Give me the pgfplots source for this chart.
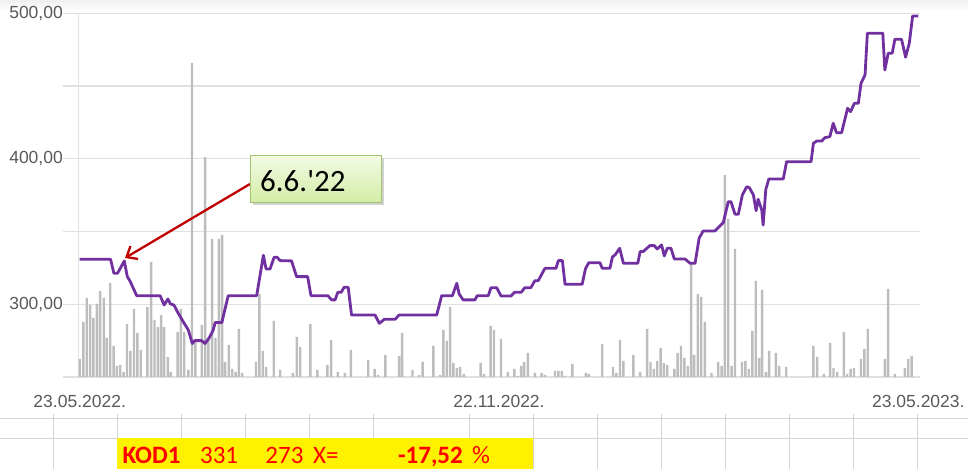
\documentclass[border=0pt]{standalone}
\usepackage{pgfplots}
\pgfplotsset{compat=1.18}
\usepackage{pgfplotstable}
\usepackage{fontspec}
\setmainfont{Liberation Sans}
\newfontfamily\calibri{Carlito}
\usetikzlibrary{arrows.meta}

\definecolor{gridgray}{HTML}{E0E0E0}
\definecolor{labelgray}{HTML}{595959}
\definecolor{bargray}{HTML}{BDBDBD}
\definecolor{pricepurple}{HTML}{7030A0}
\definecolor{arrowred}{HTML}{C00000}
\definecolor{boxborder}{HTML}{A3C46C}
\definecolor{boxtop}{HTML}{F3FBE3}
\definecolor{boxbottom}{HTML}{D2ECA6}
\definecolor{cellline}{HTML}{D4D4D4}

% price line: trading day, price
\pgfplotstableread{
t p
0 331
9.2 331
10.2 321.3
11.3 321.3
13.3 329.8
14.2 319
15.0 316
17.0 305.9
24.0 305.9
25.2 299.5
26.3 303.6
27.1 300.2
28.1 299.5
29.4 293.8
30.7 288.7
32.4 282.3
33.6 273
34.3 275
36.4 275
37.4 273
38.6 276.8
39.8 282
40.4 287.4
42.4 287.4
44.3 305.9
52.8 305.9
54.8 333.7
55.6 324.3
56.8 324.3
58.0 332.3
58.9 332.3
59.8 330
63.2 329.8
64.7 319
68.0 319
69.0 305.9
74.0 305.9
75.2 303
76.2 303
77.0 308.2
78.0 308.2
78.9 311.7
80.1 311.7
81.1 292.6
88.1 292.6
89.4 286.9
90.9 289.7
94.1 289.7
95.3 292.6
106.5 292.6
108.0 305.9
111.2 305.9
112.5 314.4
113.2 307.1
114.4 303
117.9 303
118.6 305.9
121.9 305.9
122.7 311.4
124.4 311.4
125.7 305.7
128.7 305.7
129.7 308.2
131.7 308.2
132.8 311.4
134.6 311.4
135.8 316.2
136.8 316.2
138.8 324.7
142.1 324.7
142.8 330
144.0 330
144.8 313.7
149.9 313.7
150.9 324.5
151.9 328.6
155.2 328.6
155.9 324.7
158.2 324.7
158.9 332.3
159.9 334.4
161.1 338.5
162.2 328.2
166.5 328.2
167.2 336.2
168.1 336.2
170.1 340.3
171.4 340.3
172.3 338
173.6 340.8
174.4 333.2
175.3 338.5
176.4 338.5
177.4 331.1
180.6 331.1
182.1 328.2
183.6 328.2
184.8 345.4
186.0 350.4
189.5 350.4
192.0 356.1
193.5 370.5
194.3 370.5
195.5 361.9
196.5 361.9
197.7 375.1
199.0 380.8
199.8 380.1
201.0 375.1
201.8 364.3
202.4 372.2
203.5 364.8
203.9 354.5
204.7 379
205.6 386.1
209.9 386.1
210.9 398
218.2 398
218.9 410.7
219.9 412.2
221.4 412.2
222.3 414.5
223.8 415.2
224.8 424.4
225.8 417.9
227.3 417.9
229.1 434.7
230.0 432.4
231.1 438.1
232.3 438.1
233.1 451.9
234.3 457.6
235.0 486.3
239.6 486.3
240.2 461
241.2 472.5
242.4 472.5
243.2 482.1
245.2 482.1
246.4 469.8
247.5 479.4
248.5 498.1
250.2 498.1
}\pricedata

% volume (relative bar heights)
\pgfplotstableread{
t v
0.0 18
1.1 55
2.1 79
3.1 72
4.1 59
5.1 73
6.1 86
7.2 79
8.1 39
9.1 94
10.1 31
11.1 11
12.1 12
13.1 5
14.1 53
15.1 26
16.2 68
17.2 44
18.2 27
20.2 70
21.3 115
22.3 57
23.3 50
24.3 62
25.2 50
26.3 20
27.2 5
29.2 45
30.2 68
31.2 45
32.4 7
33.5 314
34.5 35
36.4 52
37.4 220
38.4 39
39.5 138
40.5 39
41.5 138
42.5 142
43.4 15
44.5 32
45.5 8
46.5 5
47.5 48
48.5 4
52.6 15
53.6 83
54.6 26
55.6 10
57.9 56
59.8 7
63.6 4
64.8 40
65.8 30
68.8 53
70.9 7
73.9 12
75.0 37
77.0 5
79.1 4
80.9 27
86.1 17
88.0 8
89.0 2
91.2 22
95.3 21
96.2 44
99.3 7
101.3 2
102.3 15
105.5 31
107.5 2
108.5 47
109.5 36
110.5 70
111.5 14
112.5 9
113.5 10
114.6 3
119.6 14
120.6 3
122.6 51
123.6 47
125.7 38
127.7 5
129.7 8
130.7 1
131.7 11
132.6 15
133.7 24
135.8 4
137.8 4
138.8 2
141.8 6
142.8 6
143.8 6
144.8 1
147.0 13
151.0 4
151.9 3
155.9 33
159.1 10
160.1 4
161.2 37
162.2 16
165.2 22
167.2 5
169.3 48
170.3 15
171.3 8
172.3 16
173.3 29
174.3 14
175.3 12
177.4 8
178.4 24
179.4 31
180.4 19
181.4 11
182.4 113
183.3 22
184.4 83
185.4 80
186.5 55
188.5 4
190.5 15
191.5 11
192.5 202
193.5 158
194.5 11
195.5 128
197.6 15
198.6 16
199.6 8
200.7 46
201.7 96
202.7 19
203.6 87
204.7 5
205.7 26
207.7 24
208.7 11
210.8 10
218.9 31
220.0 20
222.0 3
223.9 34
224.9 9
226.0 5
228.0 45
229.0 3
230.0 8
231.0 9
233.1 18
234.1 28
235.1 48
240.2 18
241.2 88
243.2 3
246.2 9
247.2 18
248.2 21
}\volumedata

\pgfplotsset{
  frame/.style={
    at={(0,0)}, anchor=south west,
    width=841.5bp, height=363.7bp, scale only axis,
    xmin=-0.36, xmax=250.7,
  },
}

\begin{document}
\begin{tikzpicture}
\path[use as bounding box] (-78.5bp,-92bp) rectangle (889.5bp,377bp);
\shade[top color=black!6, bottom color=white] (-78.5bp,377bp) rectangle (889.5bp,366bp);

% frame, grid and tick labels
\begin{axis}[frame,
  ymin=250, ymax=500,
  axis x line*=bottom, axis y line*=left,
  axis line style={draw=gridgray, line width=1.2bp},
  ytick={250,300,...,500},
  yticklabels={,{300,00},,{400,00},,{500,00}},
  ymajorgrids,
  grid style={gridgray, line width=1.2bp},
  tick align=outside, major tick length=15.5bp,
  ytick style={gridgray, line width=1.2bp},
  xtick={0,125.1,250.2},
  xticklabels={23.05.2022.,22.11.2022.,23.05.2023.},
  xtick style={draw=none},
  ticklabel style={font=\fontsize{17.5bp}{20bp}\selectfont, text=labelgray},
  yticklabel style={inner sep=0pt},
  xticklabel style={inner sep=2.5bp},
]
\end{axis}

% volume bars
\begin{axis}[frame, hide axis,
  ymin=0, ymax=363.7,
  ybar, bar width=2.4bp, bar shift=0pt,
]
\addplot[fill=bargray, draw=none] table[x=t, y=v] {\volumedata};
\end{axis}

% price line
\begin{axis}[frame, hide axis, clip=false,
  ymin=250, ymax=500,
]
\addplot[pricepurple, line width=2.8bp, line join=round, no markers] table[x=t, y=p] {\pricedata};
\end{axis}

% callout
\draw[arrowred, line width=2.3bp, -{Straight Barb[length=9bp, width=15bp]}]
  (171.5bp,193bp) -- (46.5bp,119bp);
\fill[black!18] (174bp,171.5bp) rectangle (305.5bp,218.5bp);
\shade[top color=boxtop, bottom color=boxbottom, draw=boxborder, line width=1bp]
  (171.5bp,174bp) rectangle (303.2bp,221bp);
\node[anchor=base west, inner sep=0pt, font=\calibri\fontsize{31bp}{34bp}\selectfont]
  at (181.5bp,185.3bp) {6.6.\textquotesingle 22};

% spreadsheet cells below the chart
\draw[cellline, line width=1.2bp] (-78.5bp,-41.3bp) -- (889.5bp,-41.3bp);
\draw[cellline, line width=1.2bp] (-78.5bp,-61.3bp) -- (889.5bp,-61.3bp);
\foreach \cx in {53.3,117.3,181.3,245.3,309.3,373.3,469.3,533.3,597.3,661.3,725.3,789.3,853.3,917.3}
  \draw[cellline, line width=1.2bp] (\cx bp-78.5bp,-37bp) -- (\cx bp-78.5bp,-92bp);
\fill[yellow] (38.8bp,-61.3bp) rectangle (454.8bp,-92bp);
\begin{scope}[every node/.style={inner sep=0pt, text=red, font=\calibri\fontsize{25bp}{28bp}\selectfont}]
  \node[anchor=base west] at (43.8bp,-86.3bp) {\bfseries KOD1};
  \node[anchor=base east] at (159.8bp,-86.3bp) {331};
  \node[anchor=base east] at (225.2bp,-86.3bp) {273};
  \node[anchor=base west] at (234.5bp,-86.3bp) {X=};
  \node[anchor=base east] at (384.5bp,-86.3bp) {\bfseries -17,52};
  \node[anchor=base west] at (393.5bp,-86.3bp) {\%};
\end{scope}
\end{tikzpicture}
\end{document}
